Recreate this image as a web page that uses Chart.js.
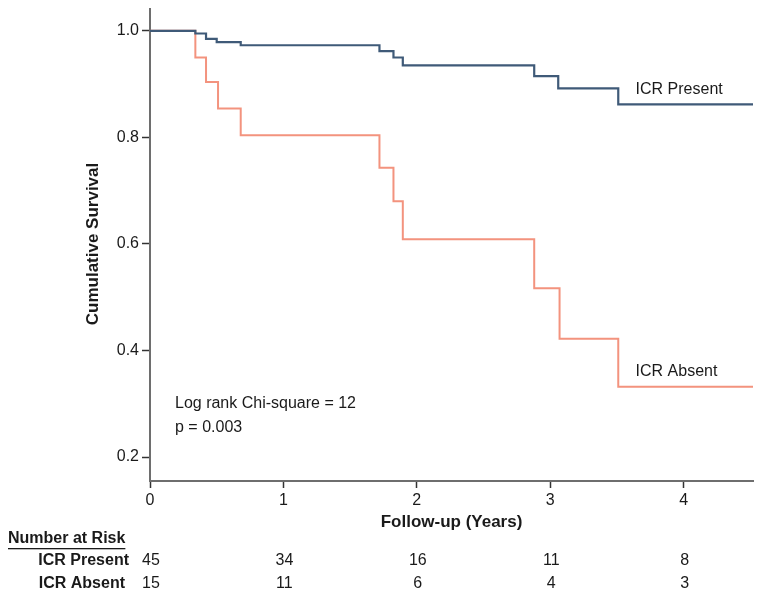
<!DOCTYPE html>
<html>
<head>
<meta charset="utf-8">
<title>Cumulative Survival</title>
<script src="https://cdn.jsdelivr.net/npm/chart.js@4.4.0/dist/chart.umd.min.js"></script>
<style>
  html, body { margin: 0; padding: 0; background: #fff; }
  #wrap { width: 762px; height: 597px; }
</style>
</head>
<body>
<div id="wrap"><canvas id="kmChart" width="762" height="597"></canvas></div>
<script>
'use strict';

// follow-up time (years) where each step happens, and the survival after it
let presentTimes = [0, 0.34, 0.42, 0.50, 0.68, 1.72, 1.825, 1.895, 2.88, 3.06, 3.51, 4.52];
let presentSurvival = [1.0, 0.995, 0.985, 0.979, 0.973, 0.962, 0.950, 0.935, 0.915, 0.892, 0.862, 0.862];
let absentTimes = [0, 0.34, 0.42, 0.51, 0.68, 1.72, 1.825, 1.895, 2.88, 3.07, 3.51, 4.52];
let absentSurvival = [1.0, 0.950, 0.904, 0.854, 0.804, 0.743, 0.680, 0.609, 0.517, 0.422, 0.332, 0.332];

let xTicks = [0, 1, 2, 3, 4];
let yTicks = [0.2, 0.4, 0.6, 0.8, 1.0];

let riskTimes = [0, 1, 2, 3, 4];
let riskPresent = [45, 34, 16, 11, 8];
let riskAbsent = [15, 11, 6, 4, 3];

const FONT = '"Liberation Sans", Arial, Helvetica, sans-serif';
const TEXT = '#1a1a1a';

function toPoints(times, vals) {
  let pts = [];
  for (let i = 0; i < times.length; i++) {
    pts.push({ x: times[i], y: vals[i] });
  }
  return pts;
}

// titles, curve labels, stats text and the number-at-risk table
const extraText = {
  id: 'extraText',
  afterDraw(chart) {
    const ctx = chart.ctx;
    const xs = chart.scales.x;
    ctx.save();
    ctx.fillStyle = TEXT;
    ctx.textBaseline = 'middle';

    // curve labels
    ctx.font = '16px ' + FONT;
    ctx.textAlign = 'left';
    ctx.fillText('ICR Present', xs.getPixelForValue(3.64), 90);
    ctx.fillText('ICR Absent', xs.getPixelForValue(3.64), 372);
    ctx.fillText('Log rank Chi-square = 12', 175, 404);
    ctx.fillText('p = 0.003', 175, 428);

    // axis titles
    ctx.font = 'bold 17px ' + FONT;
    ctx.textAlign = 'center';
    ctx.fillText('Follow-up (Years)', (chart.chartArea.left + chart.chartArea.right) / 2, 522);
    ctx.save();
    ctx.translate(93, 244);
    ctx.rotate(-Math.PI / 2);
    ctx.fillText('Cumulative Survival', 0, 0);
    ctx.restore();

    // number at risk
    ctx.font = 'bold 16px ' + FONT;
    ctx.textAlign = 'left';
    ctx.fillText('Number at Risk', 8, 539);
    let w = ctx.measureText('Number at Risk').width;
    ctx.fillRect(8, 548, w, 1.3);

    ctx.textAlign = 'right';
    ctx.fillText('ICR Present', 129, 561);
    ctx.fillText('ICR Absent', 125, 584);

    ctx.font = '16px ' + FONT;
    ctx.textAlign = 'center';
    for (let i = 0; i < riskTimes.length; i++) {
      let px = xs.getPixelForValue(riskTimes[i]);
      ctx.fillText(String(riskPresent[i]), px + 1, 561);
      ctx.fillText(String(riskAbsent[i]), px + 1, 584);
    }
    ctx.restore();
  }
};

const ctx = document.getElementById('kmChart').getContext('2d');

new Chart(ctx, {
  type: 'line',
  data: {
    datasets: [{
      label: 'ICR Present',
      data: toPoints(presentTimes, presentSurvival),
      borderColor: '#3f5a78',
      borderWidth: 2.2,
      stepped: 'before',
      pointRadius: 0,
      fill: false
    }, {
      label: 'ICR Absent',
      data: toPoints(absentTimes, absentSurvival),
      borderColor: '#f3937e',
      borderWidth: 2,
      stepped: 'before',
      pointRadius: 0,
      fill: false
    }]
  },
  options: {
    responsive: false,
    animation: false,
    layout: { padding: { top: 9, right: 9, left: 0, bottom: 0 } },
    plugins: {
      legend: { display: false },
      tooltip: { enabled: false }
    },
    scales: {
      x: {
        type: 'linear',
        min: 0,
        max: 4.52,
        afterBuildTicks: (scale) => { scale.ticks = xTicks.map(v => ({ value: v })); },
        afterFit: (scale) => { scale.height = 116; },
        grid: { drawOnChartArea: false, drawTicks: true, tickLength: 7, tickColor: '#333', tickWidth: 1.5 },
        border: { color: '#6e6e6e', width: 2 },
        ticks: { color: TEXT, padding: 3, font: { family: FONT, size: 16 }, maxRotation: 0 }
      },
      y: {
        type: 'linear',
        min: 0.155,
        max: 1.041,
        afterBuildTicks: (scale) => { scale.ticks = yTicks.map(v => ({ value: v })); },
        afterFit: (scale) => {
          scale.width = 150;
          scale.paddingTop = 0;
          scale.paddingBottom = 0;
        },
        grid: { drawOnChartArea: false, drawTicks: true, tickLength: 8, tickColor: '#333', tickWidth: 1.5 },
        border: { color: '#6e6e6e', width: 2 },
        ticks: {
          color: TEXT,
          padding: 3,
          font: { family: FONT, size: 16 },
          callback: (v) => Number(v).toFixed(1)
        }
      }
    }
  },
  plugins: [extraText]
});
</script>
</body>
</html>
